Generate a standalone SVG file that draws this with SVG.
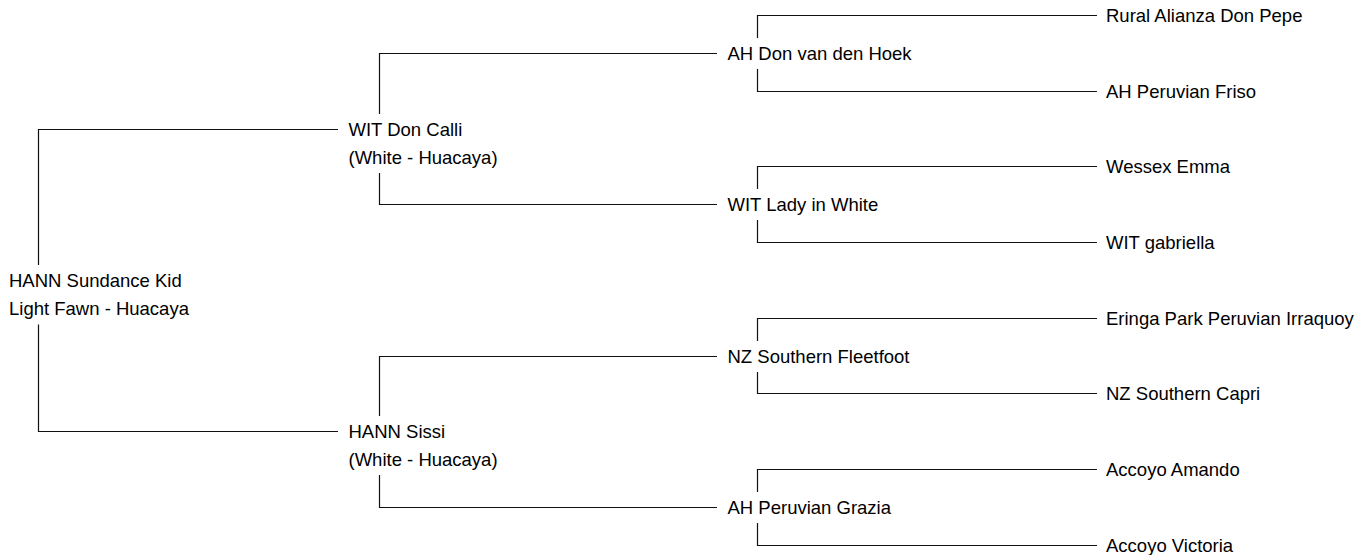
<svg xmlns="http://www.w3.org/2000/svg" width="1365" height="555" viewBox="0 0 1365 555">
<style>
text{font-family:"Liberation Sans",Arial,Helvetica,sans-serif;font-size:18.5px;fill:#000}
.c{fill:none;stroke:#111;stroke-width:1.2}
</style>
<rect width="1365" height="555" fill="#fff"/>
<g id="connectors">
<!-- root -->
<path class="c" d="M338 129.5H38.5V265M38.5 324.5V431.5H338"/>
<!-- WIT Don Calli -->
<path class="c" d="M717 53.5H379.5V114M379.5 173V204.5H717"/>
<!-- HANN Sissi -->
<path class="c" d="M717 356.5H379.5V416M379.5 475V507.5H717"/>
<!-- level 2 -->
<path class="c" d="M1097 15.5H757.5V38M757.5 69V91.5H1097"/>
<path class="c" d="M1097 166.5H757.5V189M757.5 220V242.5H1097"/>
<path class="c" d="M1097 318.5H757.5V341M757.5 372V393.5H1097"/>
<path class="c" d="M1097 469.5H757.5V492M757.5 523V545.5H1097"/>
</g>
<g id="n-root"><text x="9" y="287">HANN Sundance Kid</text><text x="9" y="315.3">Light Fawn - Huacaya</text></g>
<g id="n-sire"><text x="348.5" y="136">WIT Don Calli</text><text x="348.5" y="164.3">(White - Huacaya)</text></g>
<g id="n-dam"><text x="348.5" y="438">HANN Sissi</text><text x="348.5" y="466.3">(White - Huacaya)</text></g>
<g id="n-ss"><text x="727.5" y="60">AH Don van den Hoek</text></g>
<g id="n-sd"><text x="727.5" y="211">WIT Lady in White</text></g>
<g id="n-ds"><text x="727.5" y="363">NZ Southern Fleetfoot</text></g>
<g id="n-dd"><text x="727.5" y="514">AH Peruvian Grazia</text></g>
<g id="n-sss"><text x="1106" y="22">Rural Alianza Don Pepe</text></g>
<g id="n-ssd"><text x="1106" y="98">AH Peruvian Friso</text></g>
<g id="n-sds"><text x="1106" y="173">Wessex Emma</text></g>
<g id="n-sdd"><text x="1106" y="249">WIT gabriella</text></g>
<g id="n-dss"><text x="1106" y="325">Eringa Park Peruvian Irraquoy</text></g>
<g id="n-dsd"><text x="1106" y="400">NZ Southern Capri</text></g>
<g id="n-dds"><text x="1106" y="476">Accoyo Amando</text></g>
<g id="n-ddd"><text x="1106" y="552">Accoyo Victoria</text></g>
</svg>
